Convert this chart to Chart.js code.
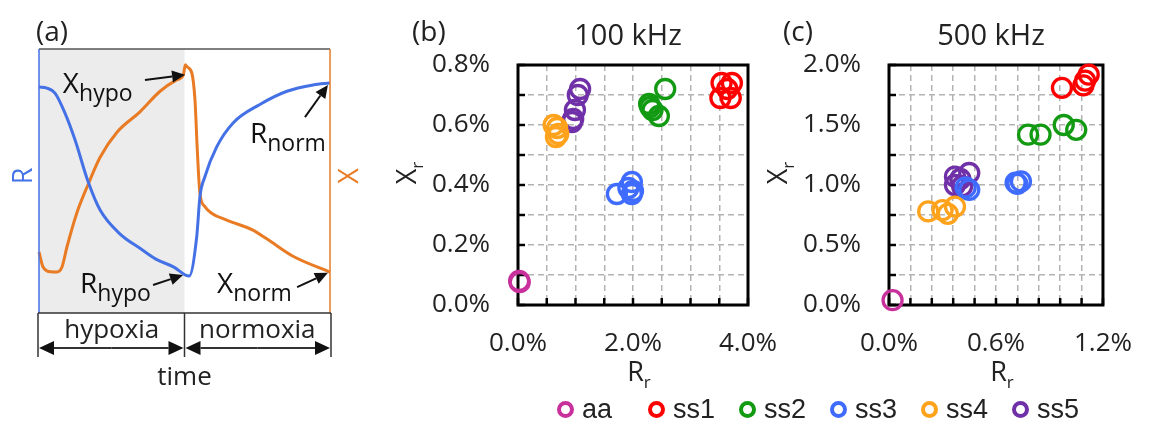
<!DOCTYPE html>
<html>
<head>
<meta charset="utf-8">
<script src="https://cdn.jsdelivr.net/npm/chart.js@4.4.1/dist/chart.umd.min.js"></script>
<style>
  html, body { margin: 0; padding: 0; background: #fff; }
  #wrap { position: relative; width: 1155px; height: 424px; overflow: hidden; }
  #wrap canvas { position: absolute; left: 0; top: 0; }
  #legend { position: absolute; left: 557px; top: 396px; display: flex;
            font-family: "Liberation Sans", Arial, sans-serif; font-size: 27px; color: #222; }
  #legend .item { width: 91px; height: 27px; line-height: 27px; display: flex; align-items: center; }
  #legend .mark { width: 17px; height: 17px; box-sizing: border-box; border: 4px solid; border-radius: 50%; margin-right: 8px; }
</style>
</head>
<body>
<div id="wrap">
  <canvas id="chartA" width="1155" height="424"></canvas>
  <canvas id="chartB" width="1155" height="424"></canvas>
  <canvas id="chartC" width="1155" height="424"></canvas>
  <div id="legend"></div>
</div>
<script>
// ---- panel (a): schematic R / X traces over time ----
const hypoxiaEnd = 50;
const phaseLabels = ['hypoxia', 'normoxia'];
const rTime  = [0, 2.7, 5.5, 8.9, 12.4, 16.8, 21, 27.8, 34.7, 40, 46.2, 51.6, 54.2, 55.3, 57, 61.1, 66.7, 75.9, 85.2, 94.2, 100];
const rCurve = [85.6, 85.2, 83.3, 75.8, 65.5, 50, 39, 30, 24.5, 20.5, 17.5, 14, 28.9, 44.1, 51.6, 63, 72, 79, 84, 86.4, 87.1];
const xTime  = [0, 1.4, 4, 6.2, 7.9, 9.6, 13, 16.8, 21, 26.8, 34.7, 41.6, 47.3, 49.6, 50.3, 50.8, 52.5, 53.6, 54.4, 55.3, 57, 59.3, 64.5, 73.5, 78.4, 87.3, 100];
const xCurve = [23.1, 17.4, 15.6, 15.5, 17.4, 25, 37.9, 48.5, 59, 68.5, 76.2, 84, 88.3, 90.2, 94, 93.3, 91, 80.7, 61.7, 45.3, 40.3, 37.8, 35.2, 31.4, 28, 21.5, 15.5];

// ---- panels (b), (c): Xr vs Rr in percent ----
const seriesNames  = ['aa', 'ss1', 'ss2', 'ss3', 'ss4', 'ss5'];
const seriesColors = ['#c8309c', '#ff0000', '#139a13', '#3f6cff', '#ffa21c', '#7030a8'];

const r100 = [
  [0.02, 0.03],
  [3.54, 3.72, 3.52, 3.70, 3.64],
  [2.56, 2.28, 2.34, 2.45, 2.30],
  [1.98, 1.72, 2.00, 1.92, 1.98],
  [0.62, 0.68, 0.70, 0.66],
  [1.08, 1.04, 0.99, 0.96, 0.94]
];
const x100 = [
  [0.08, 0.076],
  [0.74, 0.74, 0.69, 0.69, 0.72],
  [0.72, 0.67, 0.65, 0.63, 0.66],
  [0.41, 0.37, 0.38, 0.39, 0.37],
  [0.60, 0.59, 0.57, 0.56],
  [0.72, 0.70, 0.65, 0.62, 0.61]
];
const r500 = [
  [0.02],
  [0.97, 1.09, 1.12, 1.10],
  [0.78, 0.85, 0.98, 1.05],
  [0.71, 0.74, 0.72, 0.45, 0.43],
  [0.22, 0.33, 0.37, 0.30],
  [0.37, 0.45, 0.37, 0.41, 0.40]
];
const x500 = [
  [0.04],
  [1.81, 1.83, 1.92, 1.87],
  [1.42, 1.42, 1.50, 1.46],
  [1.02, 1.03, 1.01, 0.96, 0.98],
  [0.78, 0.76, 0.82, 0.79],
  [1.07, 1.10, 1.00, 0.99, 1.05]
];

const R_COLOR = '#4471e6';
const X_COLOR = '#e87b24';
const FONT = '"Open Sans", sans-serif';
const TEXT = '#222';

function line(ctx, x1, y1, x2, y2) {
  ctx.beginPath(); ctx.moveTo(x1, y1); ctx.lineTo(x2, y2); ctx.stroke();
}

function arrow(ctx, x1, y1, x2, y2, len, half) {
  const ang = Math.atan2(y2 - y1, x2 - x1);
  const bx = x2 - len * Math.cos(ang), by = y2 - len * Math.sin(ang);
  line(ctx, x1, y1, bx, by);
  ctx.beginPath();
  ctx.moveTo(x2, y2);
  ctx.lineTo(bx + half * Math.sin(ang), by - half * Math.cos(ang));
  ctx.lineTo(bx - half * Math.sin(ang), by + half * Math.cos(ang));
  ctx.closePath();
  ctx.fill();
}

// text with a subscript; align 'left' or 'center'
function subText(ctx, main, sub, x, y, size, subSize, drop, align) {
  ctx.font = size + 'px ' + FONT;
  const w1 = ctx.measureText(main).width;
  ctx.font = subSize + 'px ' + FONT;
  const w2 = ctx.measureText(sub).width;
  const x0 = align === 'center' ? x - (w1 + w2) / 2 : x;
  ctx.textAlign = 'left';
  ctx.textBaseline = 'alphabetic';
  ctx.font = size + 'px ' + FONT;
  ctx.fillText(main, x0, y);
  ctx.font = subSize + 'px ' + FONT;
  ctx.fillText(sub, x0 + w1, y + drop);
}

// annotations of panel (a), in data units
const notes = [
  { main: 'X', sub: 'hypo', at: [8.2, 83.3], tail: [36.4, 88.3], tip: [50.2, 90.2] },
  { main: 'R', sub: 'hypo', at: [14.1, 7.6], tail: [39.2, 10.6], tip: [49.5, 14.4] },
  { main: 'R', sub: 'norm', at: [72.5, 64.4], tail: [91.4, 74.2], tip: [99.3, 86.4] },
  { main: 'X', sub: 'norm', at: [61.2, 7.6], tail: [88.7, 9.8], tip: [99.3, 15.2] }
];

const panelAPlugin = {
  id: 'panelA',
  beforeDatasetsDraw(chart) {
    const {ctx, chartArea: a, scales: {x}} = chart;
    const mid = x.getPixelForValue(hypoxiaEnd);
    ctx.save();
    ctx.fillStyle = '#ececec';
    ctx.fillRect(a.left, a.top, mid - a.left, a.bottom - a.top);
    ctx.restore();
  },
  afterDraw(chart) {
    const {ctx, chartArea: a, scales: {x, y}} = chart;
    const mid = x.getPixelForValue(hypoxiaEnd);
    ctx.save();
    ctx.lineWidth = 1.5;
    ctx.strokeStyle = '#555';
    line(ctx, a.left, a.top, a.right, a.top);
    ctx.strokeStyle = R_COLOR;
    line(ctx, a.left, a.top, a.left, a.bottom);
    ctx.strokeStyle = X_COLOR;
    line(ctx, a.right, a.top, a.right, a.bottom);

    // phase bracket under the plot
    ctx.strokeStyle = '#333';
    ctx.fillStyle = '#111';
    line(ctx, a.left - 1, a.bottom, a.right + 1, a.bottom);
    [a.left - 1, mid, a.right + 1].forEach(px => line(ctx, px, a.bottom, px, a.bottom + 44));
    const ay = a.bottom + 35;
    ctx.lineWidth = 2;
    arrow(ctx, (a.left + mid) / 2, ay, a.left, ay, 15, 7);
    arrow(ctx, (a.left + mid) / 2, ay, mid - 1, ay, 15, 7);
    arrow(ctx, (mid + a.right) / 2, ay, mid + 1, ay, 15, 7);
    arrow(ctx, (mid + a.right) / 2, ay, a.right, ay, 15, 7);

    ctx.fillStyle = TEXT;
    ctx.font = '26px ' + FONT;
    ctx.textAlign = 'center';
    ctx.textBaseline = 'alphabetic';
    ctx.fillText(phaseLabels[0], (a.left + mid) / 2, a.bottom + 25);
    ctx.fillText(phaseLabels[1], (mid + a.right) / 2, a.bottom + 25);
    ctx.fillText('time', mid, a.bottom + 72);

    ctx.font = '28px ' + FONT;
    ctx.textAlign = 'left';
    ctx.fillText('(a)', 36, 41);

    // side labels
    ctx.font = '27px ' + FONT;
    ctx.textAlign = 'center';
    ctx.fillStyle = R_COLOR;
    ctx.save(); ctx.translate(32, 176); ctx.rotate(-Math.PI / 2); ctx.fillText('R', 0, 0); ctx.restore();
    ctx.fillStyle = X_COLOR;
    ctx.save(); ctx.translate(358, 176); ctx.rotate(-Math.PI / 2); ctx.fillText('X', 0, 0); ctx.restore();

    // curve annotations
    ctx.fillStyle = '#111';
    ctx.strokeStyle = '#111';
    ctx.lineWidth = 2;
    notes.forEach(n => {
      subText(ctx, n.main, n.sub, x.getPixelForValue(n.at[0]), y.getPixelForValue(n.at[1]), 28, 23, 8, 'left');
      arrow(ctx, x.getPixelForValue(n.tail[0]), y.getPixelForValue(n.tail[1]),
            x.getPixelForValue(n.tip[0]), y.getPixelForValue(n.tip[1]), 13, 6);
    });
    ctx.restore();
  }
};

new Chart(document.getElementById('chartA'), {
  type: 'line',
  data: {
    datasets: [
      { data: rTime.map((t, i) => ({x: t, y: rCurve[i]})), borderColor: R_COLOR, borderWidth: 3,
        pointRadius: 0, cubicInterpolationMode: 'monotone', clip: false },
      { data: xTime.map((t, i) => ({x: t, y: xCurve[i]})), borderColor: X_COLOR, borderWidth: 3,
        pointRadius: 0, cubicInterpolationMode: 'monotone', clip: false }
    ]
  },
  options: {
    responsive: false,
    animation: false,
    layout: { padding: { left: 39, right: 1155 - 330, top: 49, bottom: 424 - 313 } },
    plugins: { legend: { display: false }, tooltip: { enabled: false } },
    scales: {
      x: { type: 'linear', min: 0, max: 100, display: false },
      y: { type: 'linear', min: 0, max: 100, display: false }
    }
  },
  plugins: [panelAPlugin]
});

// frame, inward ticks, titles for panels (b) and (c)
const framePlugin = {
  id: 'frame',
  beforeDatasetsDraw(chart, args, opts) {
    const {ctx, chartArea: a, scales: {x, y}} = chart;
    ctx.save();
    ctx.strokeStyle = '#000';
    ctx.lineWidth = 2.5;
    y.ticks.forEach(t => { const py = y.getPixelForValue(t.value); line(ctx, a.left, py, a.left + 7, py); });
    x.ticks.forEach(t => { const px = x.getPixelForValue(t.value); line(ctx, px, a.bottom, px, a.bottom - 7); });
    ctx.lineWidth = 3;
    ctx.strokeRect(a.left, a.top, a.right - a.left, a.bottom - a.top);

    ctx.fillStyle = TEXT;
    ctx.textBaseline = 'alphabetic';
    ctx.font = '28px ' + FONT;
    ctx.textAlign = 'left';
    ctx.fillText(opts.panel, a.left - 106, 41);
    ctx.font = '29px ' + FONT;
    ctx.textAlign = 'center';
    ctx.fillText(opts.title, (a.left + a.right) / 2 - 5, 45);

    subText(ctx, 'R', 'r', (a.left + a.right) / 2 + 6, 381, 27, 17, 7, 'center');
    ctx.save();
    ctx.translate(a.left - 102, 173);
    ctx.rotate(-Math.PI / 2);
    subText(ctx, 'X', 'r', 0, 0, 27, 17, 7, 'center');
    ctx.restore();
    ctx.restore();
  }
};

function scatterChart(id, rs, xs, cfg) {
  const axisFont = { family: FONT, size: 26 };
  new Chart(document.getElementById(id), {
    type: 'scatter',
    data: {
      datasets: seriesNames.map((name, k) => ({
        label: name,
        data: rs[k].map((v, i) => ({x: v, y: xs[k][i]})),
        borderColor: seriesColors[k],
        backgroundColor: 'rgba(0,0,0,0)',
        borderWidth: 3.3,
        pointRadius: 9.5,
        pointHoverRadius: 9.5,
        clip: false
      }))
    },
    options: {
      responsive: false,
      animation: false,
      layout: { padding: { left: cfg.left - 100, right: 1155 - cfg.right, top: 65, bottom: 424 - 305 - 60 } },
      plugins: {
        legend: { display: false },
        tooltip: { enabled: false },
        frame: { panel: cfg.panel, title: cfg.title }
      },
      scales: {
        x: {
          type: 'linear', min: 0, max: cfg.xMax,
          afterFit: s => { s.height = 60; },
          ticks: { stepSize: cfg.xStep, autoSkip: false, maxRotation: 0, padding: 23, color: TEXT, font: axisFont,
                   callback: (v, i) => i % cfg.xEvery === 0 ? v.toFixed(1) + '%' : '' },
          grid: { color: '#b3b3b3', lineWidth: 1.5, drawTicks: false },
          border: { display: false, dash: [6, 4] }
        },
        y: {
          type: 'linear', min: 0, max: cfg.yMax,
          afterFit: s => { s.width = 100; },
          ticks: { stepSize: cfg.yStep, autoSkip: false, padding: 28, color: TEXT, font: axisFont,
                   callback: (v, i) => i % 2 === 0 ? v.toFixed(1) + '%' : '' },
          grid: { color: '#b3b3b3', lineWidth: 1.5, drawTicks: false },
          border: { display: false, dash: [6, 4] }
        }
      }
    },
    plugins: [framePlugin]
  });
}

scatterChart('chartB', r100, x100, { panel: '(b)', title: '100 kHz', left: 518, right: 748,
  xMax: 4, xStep: 0.5, xEvery: 4, yMax: 0.8, yStep: 0.1 });
scatterChart('chartC', r500, x500, { panel: '(c)', title: '500 kHz', left: 889, right: 1120,
  xMax: 1.2, xStep: 0.12, xEvery: 5, yMax: 2.0, yStep: 0.25 });

// shared legend
const legend = document.getElementById('legend');
seriesNames.forEach((name, k) => {
  const item = document.createElement('div');
  item.className = 'item';
  const mark = document.createElement('span');
  mark.className = 'mark';
  mark.style.borderColor = seriesColors[k];
  item.appendChild(mark);
  item.appendChild(document.createTextNode(name));
  legend.appendChild(item);
});
</script>
</body>
</html>
